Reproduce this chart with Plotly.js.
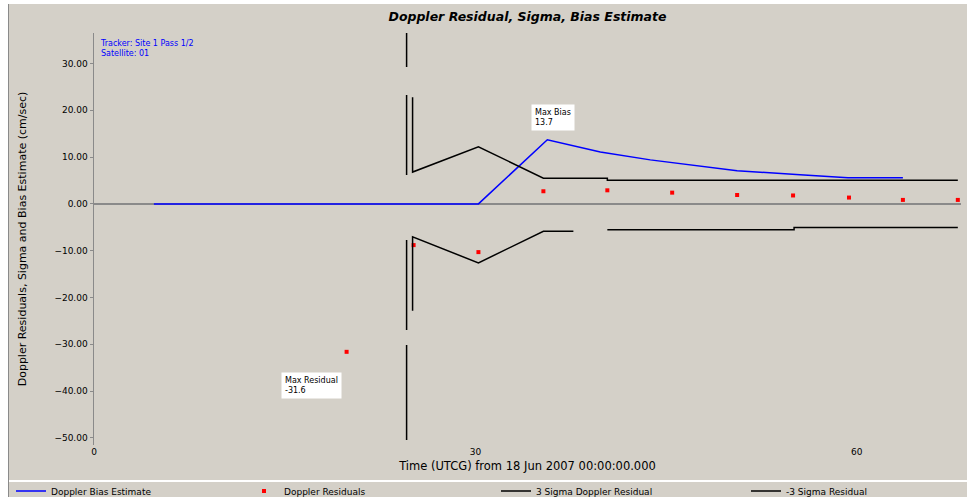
<!DOCTYPE html>
<html>
<head>
<meta charset="utf-8">
<script src="https://cdn.plot.ly/plotly-3.0.1.min.js"></script>
<style>
html,body{margin:0;padding:0;background:#ffffff;width:967px;height:497px;overflow:hidden;}
#chart{position:absolute;left:8px;top:4px;width:958px;height:493px;border-left:1px solid #8a8a8a;}
</style>
</head>
<body>
<div id="chart"></div>
<script>
// ---- data (minutes past epoch, value) ----
const biasTime   = [4.71, 30.24, 35.66, 39.83, 43.76, 47.68, 50.59, 55.54, 59.31, 63.63];
const biasValue  = [0, 0, 13.7, 11.1, 9.4, 8.0, 7.1, 6.2, 5.6, 5.6];

const residTime  = [19.87, 25.14, 30.24, 35.35, 40.38, 45.48, 50.59, 54.99, 59.39, 63.63, 67.95];
const residValue = [-31.6, -8.8, -10.3, 2.7, 2.9, 2.4, 1.9, 1.8, 1.35, 0.85, 0.85];

const sigUpTime  = [25.06, 25.06, 30.24, 35.35, 40.38, 40.38, 67.95];
const sigUpValue = [22.8, 6.8, 12.2, 5.5, 5.5, 5.05, 5.05];

const sigLoTime  = [25.06, 25.06, 30.24, 35.35, 37.71, null, 40.38, 55.07, 55.07, 67.95];
const sigLoValue = [-22.8, -7.05, -12.6, -5.85, -5.85, null, -5.55, -5.55, -5.05, -5.05];

const eventTime  = [24.59, 24.59];
const eventValue = [36.5, -51.5];

const yTicks = [-50, -40, -30, -20, -10, 0, 10, 20, 30];
const xTicks = [0, 30, 60];
const xTickText = ['0', '30', '60'];

const maxBiasIdx = 2;
const maxResidIdx = 0;

const F = 'DejaVu Sans, Verdana, sans-serif';

const traces = [
  {x: eventTime, y: eventValue, mode: 'lines', showlegend: false, hoverinfo: 'skip',
   line: {color: '#000000', width: 1.5, dash: '34px,28px,80px,65px,90px,15px,95px'}},
  {x: biasTime, y: biasValue, mode: 'lines', name: 'Doppler Bias Estimate', legend: 'legend',
   line: {color: '#0000ff', width: 1.5}},
  {x: residTime, y: residValue, mode: 'markers', name: 'Doppler Residuals', legend: 'legend2',
   marker: {color: '#ff0000', symbol: 'square', size: 4}},
  {x: sigUpTime, y: sigUpValue, mode: 'lines', name: '3 Sigma Doppler Residual', legend: 'legend3',
   line: {color: '#000000', width: 1.5}, connectgaps: false},
  {x: sigLoTime, y: sigLoValue, mode: 'lines', name: '-3 Sigma Residual', legend: 'legend4',
   line: {color: '#000000', width: 1.5}, connectgaps: false}
];

function leg(pageX) {
  return {orientation: 'h', xref: 'container', yref: 'container', x: (pageX - 8) / 958, y: 0.012,
          xanchor: 'left', yanchor: 'middle', bgcolor: 'rgba(0,0,0,0)',
          font: {family: F, size: 9, color: '#000000'}, itemwidth: 30};
}

const layout = {
  width: 958, height: 493,
  paper_bgcolor: '#d4d0c8', plot_bgcolor: '#d4d0c8',
  margin: {l: 85, r: 6, t: 29, b: 52},
  font: {family: F, size: 9, color: '#000000'},
  title: {text: 'Doppler Residual, Sigma, Bias Estimate',
          font: {family: F, size: 12.5, color: '#000000', weight: 'bold', style: 'italic'},
          xref: 'paper', x: 0.5, xanchor: 'center',
          yref: 'container', y: 0.974, yanchor: 'middle'},
  xaxis: {range: [0, 68.2], showgrid: false, zeroline: false, showline: false,
          tickvals: xTicks, ticktext: xTickText, ticks: '', tickfont: {size: 9},
          title: {text: 'Time (UTCG) from 18 Jun 2007 00:00:00.000', font: {size: 11.5}, standoff: 5}},
  yaxis: {range: [-51.5, 36.5], showgrid: false, zeroline: true, zerolinecolor: '#8a8a8a',
          zerolinewidth: 1.5, showline: true, linecolor: '#8a8a8a', linewidth: 1.5,
          tickvals: yTicks, tickformat: '.2f', ticks: 'outside', ticklen: 3,
          tickcolor: '#8a8a8a', tickfont: {size: 9},
          title: {text: 'Doppler Residuals, Sigma and Bias Estimate (cm/sec)', font: {size: 11}, standoff: 25}},
  showlegend: true,
  legend: leg(10),
  legend2: leg(243),
  legend3: leg(495),
  legend4: leg(745),
  shapes: [
    {type: 'line', xref: 'paper', yref: 'paper', x0: -0.1, x1: 1.01, y0: -0.0874, y1: -0.0874,
     line: {color: '#ffffff', width: 2}}
  ],
  annotations: [
    {xref: 'paper', yref: 'paper', x: 0.005, y: 0.99, xanchor: 'left', yanchor: 'top',
     showarrow: false, align: 'left', text: 'Tracker: Site 1 Pass 1/2<br>Satellite: 01',
     font: {size: 8, color: '#0000ff'}},
    {x: biasTime[maxBiasIdx], y: biasValue[maxBiasIdx], showarrow: true, arrowcolor: 'rgba(0,0,0,0)',
     ax: 6, ay: -22, text: 'Max Bias<br>' + biasValue[maxBiasIdx].toFixed(1), align: 'left',
     bgcolor: '#ffffff', font: {size: 8}, borderpad: 3},
    {x: residTime[maxResidIdx], y: residValue[maxResidIdx], showarrow: true, arrowcolor: 'rgba(0,0,0,0)',
     ax: -35, ay: 34, text: 'Max Residual<br>' + residValue[maxResidIdx].toFixed(1), align: 'left',
     bgcolor: '#ffffff', font: {size: 8}, borderpad: 3}
  ]
};

Plotly.newPlot('chart', traces, layout, {displayModeBar: false, staticPlot: true});
</script>
</body>
</html>
